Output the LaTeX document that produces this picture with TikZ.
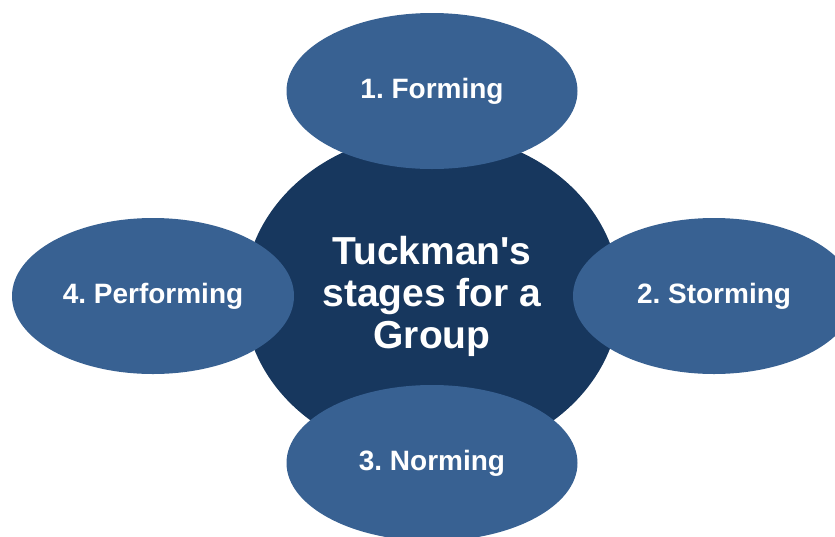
\documentclass[tikz,border=0pt]{standalone}
\usepackage{fontspec}
\setmainfont{Liberation Sans}
\usetikzlibrary{shapes.geometric}
\definecolor{stageblue}{HTML}{386192}
\definecolor{hubblue}{HTML}{17375E}
\frenchspacing

\begin{document}
\begin{tikzpicture}[x=1pt,y=-1pt,
                    stage/.style={ellipse,fill=stageblue,text=white,inner sep=0pt,
                      minimum width=291pt,minimum height=156pt,
                      font=\fontsize{28}{32}\selectfont\bfseries},
                    hub/.style={ellipse,fill=hubblue,text=white,inner sep=0pt,
                      minimum width=376pt,minimum height=326pt,align=center,
                      font=\fontsize{39}{42}\selectfont\bfseries}]

  \useasboundingbox (0,0) rectangle (835,536);

  % the group in the middle
  \node[hub] (G) at (432,296) {Tuckman\textquotesingle s\\stages for a\\Group};

  % the four stages round it
  \node[stage] (F) at (432,91)  {1. Forming};
  \node[stage,minimum width=282pt] (S) at (714,296) {2. Storming};
  \node[stage] (N) at (432,463) {3. Norming};
  \node[stage,minimum width=282pt] (P) at (153,296) {4. Performing};

\end{tikzpicture}
\end{document}
